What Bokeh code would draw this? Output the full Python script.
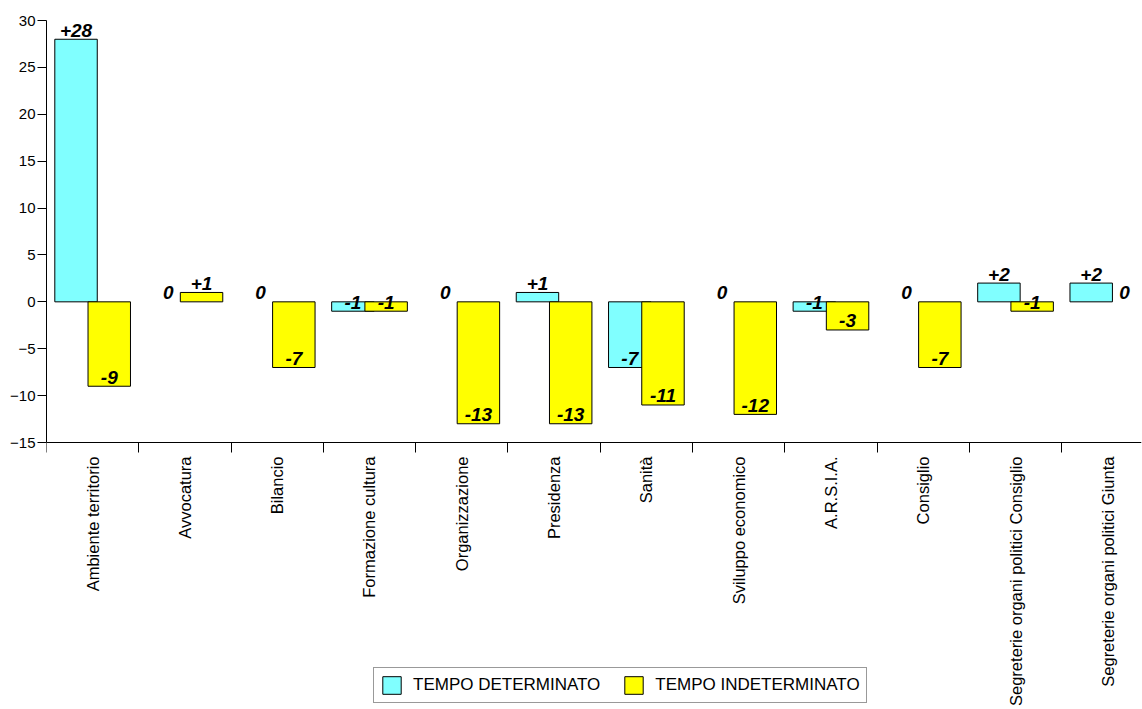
import math
from bokeh.plotting import figure
from bokeh.models import Range1d, FixedTicker, Legend, LegendItem, ColumnDataSource
from bokeh.core.properties import value
from bokeh.embed import file_html
from bokeh.resources import INLINE

# Variazioni del personale per area
categories = [
    "Ambiente territorio", "Avvocatura", "Bilancio", "Formazione cultura",
    "Organizzazione", "Presidenza", "Sanità", "Sviluppo economico",
    "A.R.S.I.A.", "Consiglio", "Segreterie organi politici Consiglio",
    "Segreterie organi politici Giunta",
]
tempo_determinato = [28, 0, 0, -1, 0, 1, -7, 0, -1, 0, 2, 2]
tempo_indeterminato = [-9, 1, -7, -1, -13, -13, -11, -12, -3, -7, -1, 0]
series_names = ["TEMPO DETERMINATO", "TEMPO INDETERMINATO"]
y_ticks = [-15, -10, -5, 0, 5, 10, 15, 20, 25, 30]

FONT = "Liberation Sans"
CYAN = "#80FFFF"
YELLOW = "#FFFF00"
BAR_W = 0.46
OFFS = [0.32, 0.68]
Y_MIN, Y_MAX = -15, 30

n = len(categories)
# il riquadro scende fino al fondo: sotto -15 ci sono etichette e legenda
p = figure(width=1142, height=709, output_backend="svg", toolbar_location=None,
           x_range=Range1d(0, 11.865), y_range=Range1d(-43.47, Y_MAX),
           min_border_left=46, min_border_top=20, min_border_bottom=0,
           min_border_right=1)
p.outline_line_color = None
p.xgrid.visible = False
p.ygrid.visible = False
p.background_fill_color = "white"
p.border_fill_color = "white"


def fmt(v):
    return f"+{v}" if v > 0 else str(v)


renderers = []
text_x, text_y, text_s = [], [], []
for k, (vals, col) in enumerate([(tempo_determinato, CYAN), (tempo_indeterminato, YELLOW)]):
    xs = [i + OFFS[k] for i in range(n)]
    lc = ["black" if v != 0 else None for v in vals]
    src = ColumnDataSource(dict(x=xs, top=vals, lc=lc))
    r = p.vbar(x="x", top="top", bottom=0, width=BAR_W, source=src,
               fill_color=col, line_color="lc", line_width=1)
    renderers.append(r)
    for x, v in zip(xs, vals):
        text_x.append(x)
        text_y.append(v)
        text_s.append(fmt(v))

# valori: sopra la barra se >= 0, dentro la base se negativi
tsrc = ColumnDataSource(dict(x=text_x, y=text_y, t=text_s))
p.text(x="x", y="y", text="t", y_offset=-9, source=tsrc,
       text_font=value(FONT), text_font_style="bold italic", text_font_size="19px",
       text_align="center", text_baseline="middle", text_color="black")

# asse x: etichette al centro delle categorie, tacche ai bordi
xa = p.xaxis[0]
xa.fixed_location = Y_MIN
xa.ticker = FixedTicker(ticks=[i + 0.5 for i in range(n)], minor_ticks=list(range(n + 1)))
xa.major_label_overrides = {i + 0.5: c for i, c in enumerate(categories)}
xa.major_label_orientation = math.pi / 2
xa.major_tick_out = 0
xa.major_tick_in = 0
xa.minor_tick_out = 10
xa.minor_tick_in = 0
xa.minor_tick_line_color = "black"
xa.major_label_standoff = 4
xa.major_label_text_font = FONT
xa.major_label_text_font_size = "16.5px"
xa.major_label_text_color = "black"
xa.axis_line_color = "black"

ya = p.yaxis[0]
ya.bounds = (Y_MIN, Y_MAX)
ya.ticker = FixedTicker(ticks=y_ticks)
ya.major_tick_out = 9
ya.major_tick_in = 0
ya.minor_tick_line_color = None
ya.major_label_standoff = 2
ya.major_label_text_font = FONT
ya.major_label_text_font_size = "15px"
ya.major_label_text_color = "black"
ya.axis_line_color = "black"

legend = Legend(items=[LegendItem(label=series_names[0], renderers=[renderers[0]]),
                       LegendItem(label=series_names[1], renderers=[renderers[1]])],
                orientation="horizontal", location=(327, 6),
                label_text_font=FONT, label_text_font_size="17px",
                label_text_color="black", glyph_width=23, glyph_height=22,
                label_height=22, label_standoff=10, spacing=22, padding=6,
                margin=0, border_line_color="#333333", border_line_width=1,
                background_fill_color="white", background_fill_alpha=1)
p.add_layout(legend, "center")

open("out.html", "w").write(file_html(p, INLINE))
